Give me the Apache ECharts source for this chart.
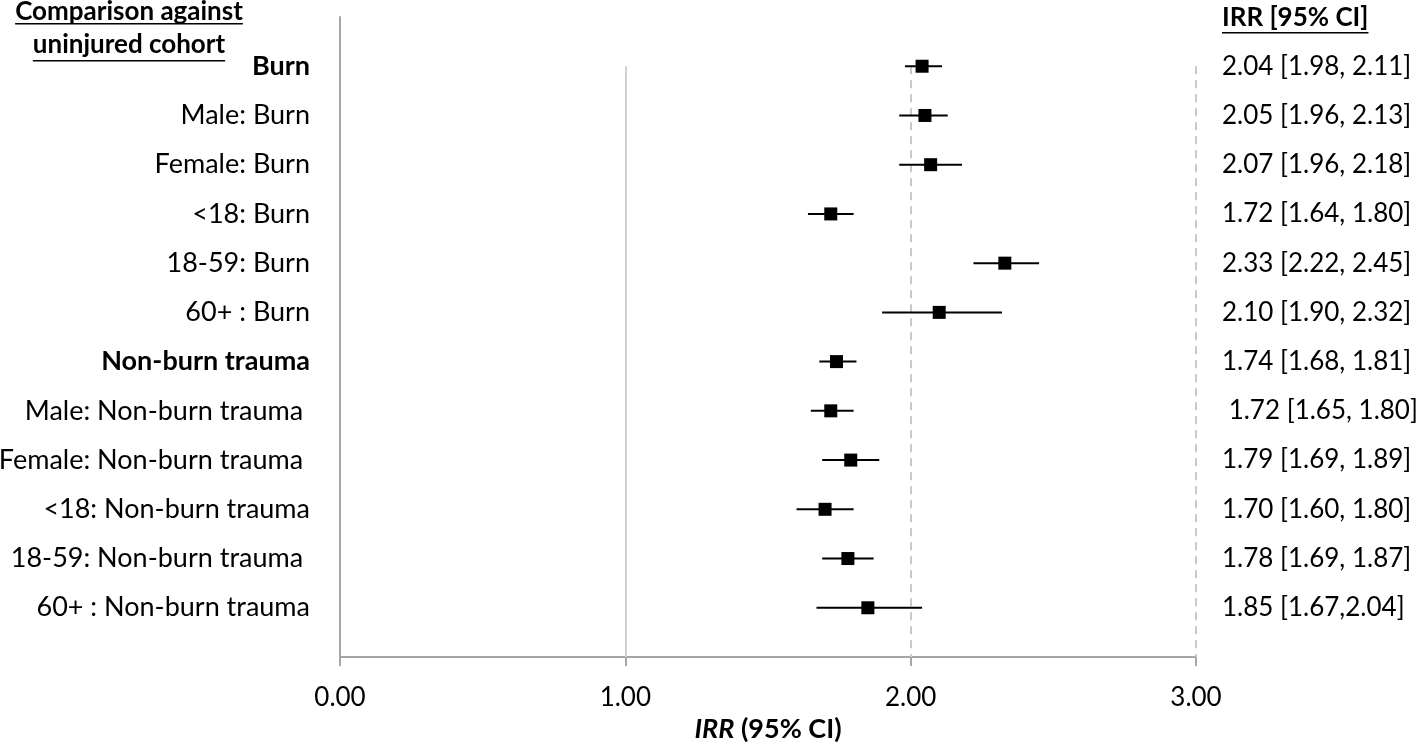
<!DOCTYPE html>
<html>
<head>
<meta charset="utf-8">
<script src="https://cdn.jsdelivr.net/npm/echarts@6/dist/echarts.min.js"></script>
<style>
html,body{margin:0;padding:0;background:#fff;}
#chart{width:1418px;height:742px;}
</style>
</head>
<body>
<div id="chart"></div>
<script>
const categories = ['Burn','Male: Burn','Female: Burn','<18: Burn','18-59: Burn','60+ : Burn','Non-burn trauma','Male: Non-burn trauma ','Female: Non-burn trauma ','<18: Non-burn trauma','18-59: Non-burn trauma ','60+ : Non-burn trauma'];
const boldRows = ['Burn','Non-burn trauma'];
const irr   = [2.04, 2.05, 2.07, 1.72, 2.33, 2.10, 1.74, 1.72, 1.79, 1.70, 1.78, 1.85];
const lower = [1.98, 1.96, 1.96, 1.64, 2.22, 1.90, 1.68, 1.65, 1.69, 1.60, 1.69, 1.67];
const upper = [2.11, 2.13, 2.18, 1.80, 2.45, 2.32, 1.81, 1.80, 1.89, 1.80, 1.87, 2.04];
const ciLabels = ['2.04 [1.98, 2.11]','2.05 [1.96, 2.13]','2.07 [1.96, 2.18]','1.72 [1.64, 1.80]','2.33 [2.22, 2.45]','2.10 [1.90, 2.32]','1.74 [1.68, 1.81]',' 1.72 [1.65, 1.80]','1.79 [1.69, 1.89]','1.70 [1.60, 1.80]','1.78 [1.69, 1.87]','1.85 [1.67,2.04]'];
const xTicks = [0, 1, 2, 3];
const headerLeft = ['Comparison against', 'uninjured cohort'];
const headerRight = 'IRR [95% CI]';
const xAxisTitleItalic = 'IRR';
const xAxisTitleRest = ' (95% CI)';

const FONT = 'Lato';
const FS_LEFT = 27;
const FS_RIGHT = 26;
const FS_TICK = 26;
const FS_HDR = 26;
const FS_TITLE = 27;
const rows = categories.map((c, i) => i + 1);

const chart = echarts.init(document.getElementById('chart'));

function textWidth(txt, font) {
  const c = document.createElement('canvas').getContext('2d');
  c.font = font;
  return c.measureText(txt).width;
}

const ciData = rows.map((r, i) => [lower[i], upper[i], r]);
const ptData = rows.map((r, i) => [irr[i], r]);

const hdrFont = 'bold ' + FS_HDR + 'px ' + FONT;
const graphics = [];
const lhX = 129;
const hdrCenters = [12, 45];
const hdrUnder = [23, 60];
headerLeft.forEach((t, k) => {
  const w = textWidth(t, hdrFont);
  graphics.push({type:'text', x: lhX, y: hdrCenters[k], style:{text:t, font:hdrFont, fill:'#000', align:'center', verticalAlign:'middle'}});
  graphics.push({type:'rect', shape:{x: lhX - w/2, y: hdrUnder[k], width: w, height: 1.6}, style:{fill:'#000'}});
});
{
  const w = textWidth(headerRight, hdrFont);
  graphics.push({type:'text', x: 1222, y: 18, style:{text:headerRight, font:hdrFont, fill:'#000', align:'left', verticalAlign:'middle'}});
  graphics.push({type:'rect', shape:{x: 1222, y: 32, width: w, height: 1.6}, style:{fill:'#000'}});
}

const option = {
  animation: false,
  backgroundColor: '#fff',
  textStyle: {fontFamily: FONT},
  grid: {left: 340, right: 222, top: 17, bottom: 85, containLabel: false, outerBoundsMode: 'none'},
  xAxis: {
    type: 'value', min: xTicks[0], max: xTicks[xTicks.length-1], interval: 1,
    axisLine: {show: true, onZero: false, lineStyle: {color: '#a6a6a6', width: 2}},
    axisTick: {show: true, length: 9, lineStyle: {color: '#a6a6a6', width: 2}},
    splitLine: {show: false},
    axisLabel: {formatter: v => v.toFixed(2), fontSize: FS_TICK, color: '#000', margin: 28, fontFamily: FONT},
    name: '{i|' + xAxisTitleItalic + '}{b|' + xAxisTitleRest + '}',
    nameLocation: 'middle', nameGap: 56,
    nameTextStyle: {rich: {
      i: {fontStyle: 'italic', fontWeight: 'bold', fontSize: FS_TITLE, color: '#000', fontFamily: FONT},
      b: {fontWeight: 'bold', fontSize: FS_TITLE, color: '#000', fontFamily: FONT}
    }}
  },
  yAxis: [{
    type: 'value', min: 0, max: categories.length + 1, interval: 1, inverse: true,
    axisLine: {show: true, onZero: false, lineStyle: {color: '#a6a6a6', width: 2}},
    axisTick: {show: false}, splitLine: {show: false},
    axisLabel: {
      margin: 30, fontSize: FS_LEFT, color: '#000', fontFamily: FONT,
      formatter: v => {
        if (v < 1 || v > categories.length) return '';
        const n = categories[v-1];
        return boldRows.includes(n) ? '{b|' + n + '}' : n;
      },
      rich: {b: {fontWeight: 'bold', fontSize: FS_LEFT, color: '#000', fontFamily: FONT}}
    }
  }, {
    type: 'value', position: 'right', min: 0, max: categories.length + 1, interval: 1, inverse: true,
    axisLine: {show: false, onZero: false}, axisTick: {show: false}, splitLine: {show: false},
    axisLabel: {
      margin: 26, fontSize: FS_RIGHT, color: '#000', fontFamily: FONT,
      formatter: v => (v < 1 || v > categories.length) ? '' : ciLabels[v-1]
    }
  }],
  graphic: graphics,
  series: [{
    type: 'custom', yAxisIndex: 0, z: 3,
    data: ciData,
    renderItem: (params, api) => {
      const a = api.coord([api.value(0), api.value(2)]);
      const b = api.coord([api.value(1), api.value(2)]);
      return {type: 'line', shape: {x1: a[0], y1: a[1], x2: b[0], y2: b[1]}, style: {stroke: '#000', lineWidth: 2}};
    },
    markLine: {
      silent: true, symbol: 'none', label: {show: false}, z: 1,
      data: [
        [{coord: [1, 1], lineStyle: {color: '#d0d0d0', width: 2, type: 'solid'}}, {coord: [1, categories.length + 1]}],
        [{coord: [2, 1], lineStyle: {color: '#c8c8c8', width: 2, type: [8, 6]}}, {coord: [2, categories.length + 1]}],
        [{coord: [3, 1], lineStyle: {color: '#c8c8c8', width: 2, type: [8, 6]}}, {coord: [3, categories.length + 1]}]
      ]
    }
  }, {
    type: 'scatter', yAxisIndex: 0, z: 4,
    data: ptData, symbol: 'rect', symbolSize: 13,
    itemStyle: {color: '#000', opacity: 1}
  }]
};
chart.setOption(option);
</script>
</body>
</html>
